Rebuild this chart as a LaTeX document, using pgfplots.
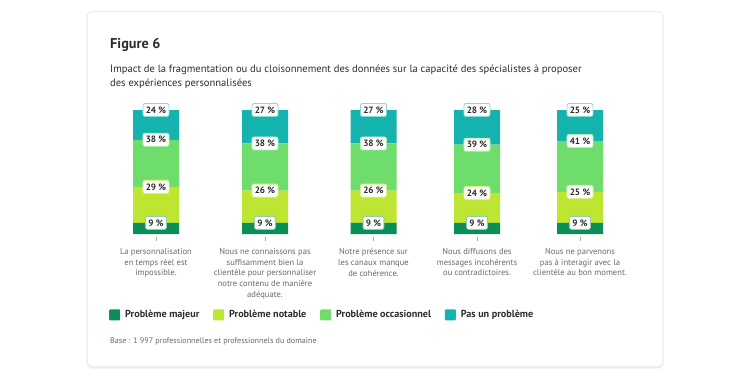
\documentclass[border=0pt]{standalone}
\usepackage{fontspec}
\setmainfont{PT Sans}
\usepackage{pgfplots}
\pgfplotsset{compat=1.18}
\definecolor{cMaj}{HTML}{0B8F5A}
\definecolor{cNot}{HTML}{BDE532}
\definecolor{cOcc}{HTML}{6FDD6C}
\definecolor{cPas}{HTML}{14B3AD}
\definecolor{txt}{HTML}{2C2C2C}
\definecolor{gtxt}{HTML}{6A6A6A}
\begin{document}
\begin{tikzpicture}
\fill[white] (0bp,0bp) rectangle (750bp,-379bp);
\fill[black!7, rounded corners=6bp] (86.5bp,-11bp) rectangle (663.5bp,-368.5bp);
\fill[white, rounded corners=4bp] (88bp,-12bp) rectangle (662bp,-366bp);
\node[anchor=base west, inner sep=0pt, text=txt, font=\bfseries\fontsize{14.3}{16}\selectfont] at (110bp,-48bp) {Figure 6};
\node[anchor=base west, inner sep=0pt, text=txt, font=\fontsize{10.6}{14}\selectfont] at (110bp,-72.5bp) {Impact de la fragmentation ou du cloisonnement des données sur la capacité des spécialistes à proposer};
\node[anchor=base west, inner sep=0pt, text=txt, font=\fontsize{10.6}{14}\selectfont] at (110bp,-86.5bp) {des expériences personnalisées};
\node[anchor=base west, inner sep=0pt, text=gtxt, font=\fontsize{8.15}{9}\selectfont] at (110bp,-343bp) {Base : 1 997 professionnelles et professionnels du domaine};

\begin{axis}[
  at={(100bp,-234bp)}, anchor=south west,
  scale only axis, width=540bp, height=124bp,
  xmin=100, xmax=640, ymin=0, ymax=100,
  ybar stacked, bar width=46bp,
  axis line style={draw=none},
  ytick=\empty,
  xtick={156,265,373.5,477,580},
  xticklabels={{La personnalisation\\en temps réel est\\impossible.},
               {Nous ne connaissons pas\\suffisamment bien la\\clientèle pour personnaliser\\notre contenu de manière\\adéquate.},
               {Notre présence sur\\les canaux manque\\de cohérence.},
               {Nous diffusons des\\messages incohérents\\ou contradictoires.},
               {Nous ne parvenons\\pas à interagir avec la\\clientèle au bon moment.}},
  xtick pos=bottom, tick align=outside, major tick length=4bp,
  xtick style={draw=gray!70, line width=0.6bp, yshift=-3bp},
  xticklabel style={align=center, text=gtxt, font=\fontsize{8.6}{10.7}\selectfont, yshift=-7bp},
  clip=false,
  legend columns=4,
  legend style={at={(0.0167,-0.652)}, anchor=west, draw=none, fill=none, inner sep=0pt,
    font=\bfseries\fontsize{10.2}{11}\selectfont, text=txt,
    /tikz/every odd column/.append style={column sep=3bp},
    /tikz/every even column/.append style={column sep=11.8bp}},
  legend image code/.code={\fill[#1, rounded corners=1bp] (0bp,-5.5bp) rectangle (11bp,5.5bp);},
]
\addplot[fill=cMaj, draw=none] coordinates {(156,9) (265,9) (373.5,9) (477,9) (580,9)};
\addplot[fill=cNot, draw=none] coordinates {(156,29) (265,26) (373.5,26) (477,24) (580,25)};
\addplot[fill=cOcc, draw=none] coordinates {(156,38) (265,38) (373.5,38) (477,39) (580,41)};
\addplot[fill=cPas, draw=none] coordinates {(156,24) (265,27) (373.5,27) (477,28) (580,25)};
\legend{Problème majeur, Problème notable, Problème occasionnel, Pas un problème}
\end{axis}

\begin{axis}[
  at={(100bp,-234bp)}, anchor=south west,
  scale only axis, width=540bp, height=124bp,
  xmin=100, xmax=640, ymin=0, ymax=100,
  hide axis, clip=false,
  point meta=explicit,
  nodes near coords={\pgfmathprintnumber[assume math mode=true]{\pgfplotspointmeta}~\%},
  every node near coord/.append style={anchor=center, fill=white, rounded corners=2bp,
     line width=0.9bp, text=txt, font=\bfseries\fontsize{9.2}{10}\selectfont,
     inner xsep=2.8bp, inner ysep=0pt, minimum height=13bp},
]
\addplot[only marks, mark=*, mark size=0pt, mark options={draw=none,fill=none},
  nodes near coords style={draw=cMaj!45}] table[meta=v] {
x y v
156 9 9
265 9 9
373.5 9 9
477 9 9
580 9 9
};
\addplot[only marks, mark=*, mark size=0pt, mark options={draw=none,fill=none},
  nodes near coords style={draw=cNot!55}] table[meta=v] {
x y v
156 38 29
265 35 26
373.5 35 26
477 33 24
580 34 25
};
\addplot[only marks, mark=*, mark size=0pt, mark options={draw=none,fill=none},
  nodes near coords style={draw=cOcc!50}] table[meta=v] {
x y v
156 76 38
265 73 38
373.5 73 38
477 72 39
580 75 41
};
\addplot[only marks, mark=*, mark size=0pt, mark options={draw=none,fill=none},
  nodes near coords style={draw=cPas!50}] table[meta=v] {
x y v
156 100 24
265 100 27
373.5 100 27
477 100 28
580 100 25
};
\end{axis}
\end{tikzpicture}
\end{document}
